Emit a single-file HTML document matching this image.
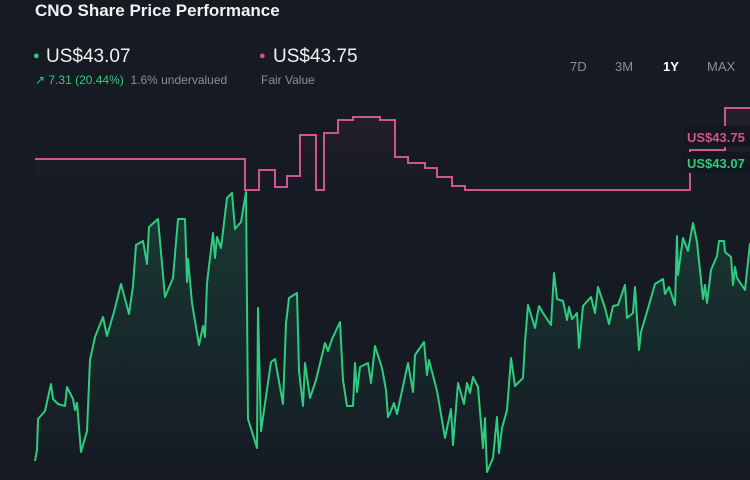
<!DOCTYPE html><html><head><style>
body{margin:0;width:750px;height:480px;background:#151a23;overflow:hidden;font-family:"Liberation Sans",sans-serif;position:relative}
.t{position:absolute;white-space:nowrap}
</style></head><body>
<div class="t" style="left:35px;top:1px;font-size:17px;font-weight:bold;color:#f2f2f2">CNO Share Price Performance</div>
<div class="t" style="left:33px;top:50px;font-size:11px;color:#2ecc7f">●</div>
<div class="t" style="left:46px;top:46px;font-size:19px;color:#f0f0f0">US$43.07</div>
<div class="t" style="left:35px;top:73px;font-size:12px;color:#2ecc7f">↗ 7.31 (20.44%) <span style="color:#8a8f98">&nbsp;1.6% undervalued</span></div>
<div class="t" style="left:259px;top:50px;font-size:11px;color:#d0548f">●</div>
<div class="t" style="left:273px;top:46px;font-size:19px;color:#f0f0f0">US$43.75</div>
<div class="t" style="left:261px;top:73px;font-size:12px;color:#8a8f98">Fair Value</div>
<div class="t" style="left:570px;top:59px;font-size:13px;color:#8a8f98">7D</div>
<div class="t" style="left:615px;top:59px;font-size:13px;color:#8a8f98">3M</div>
<div class="t" style="left:663px;top:59px;font-size:13px;color:#fff;font-weight:bold">1Y</div>
<div class="t" style="left:707px;top:59px;font-size:13px;color:#8a8f98">MAX</div>
<svg width="750" height="480" style="position:absolute;left:0;top:0">
<defs><linearGradient id="g" x1="0" y1="0" x2="0" y2="1"><stop offset="0" stop-color="#2ecc7f" stop-opacity="0.18"/><stop offset="1" stop-color="#2ecc7f" stop-opacity="0"/></linearGradient>
<linearGradient id="p" x1="0" y1="0" x2="0" y2="1"><stop offset="0" stop-color="#d0548f" stop-opacity="0.08"/><stop offset="1" stop-color="#d0548f" stop-opacity="0"/></linearGradient></defs>
<path d="M35,159H245V190H259V170H275V187H287V176H300V135H316V190H324V133H338V120H353V117H380V120H395V157H408V163H425V168H437V177H452V186H465V190H690V150H725V108H750V200H35Z" fill="url(#p)"/>
<polyline fill="none" stroke="#d0548f" stroke-width="2" points="35,159 245,159 245,190 259,190 259,170 275,170 275,187 287,187 287,176 300,176 300,135 316,135 316,190 324,190 324,133 338,133 338,120 353,120 353,117 380,117 380,120 395,120 395,157 408,157 408,163 425,163 425,168 437,168 437,177 452,177 452,186 465,186 465,190 690,190 690,150 725,150 725,108 750,108"/>
<polygon fill="url(#g)" points="35,480 35,461 37,450 38,419 45,411 51,384 53,399 58,404 65,406 67,387 73,399 75,410 77,403 81,452 87,431 90,360 95,337 103,317 107,336 114,312 121,284 129,314 133,286 136,245 143,241 147,264 149,227 158,219 165,297 173,278 178,219 185,219 187,282 188,259 192,303 199,345 203,326 205,337 207,283 213,233 215,258 217,237 221,248 227,198 232,193 235,229 241,222 246,192 248,419 257,448 258,308 261,431 271,362 275,359 283,404 286,323 289,298 297,293 299,371 303,406 305,363 310,398 316,380 325,343 328,351 332,339 340,322 343,380 347,406 353,406 355,363 357,392 360,367 368,363 371,383 375,346 382,368 386,390 388,417 390,413 394,403 397,414 408,363 413,392 415,355 424,342 427,375 429,360 437,391 442,420 445,438 451,409 453,445 458,383 464,404 467,383 470,393 473,377 478,387 483,448 485,418 487,472 493,458 497,417 499,453 502,428 507,410 511,358 515,386 523,378 525,342 528,305 535,328 539,306 543,313 551,325 554,273 557,299 563,301 567,320 569,307 572,319 577,313 579,348 583,306 591,297 595,313 598,287 605,308 609,324 613,306 618,305 625,285 627,318 633,313 635,287 639,350 641,332 649,305 655,284 663,279 665,294 669,287 675,305 677,236 678,275 683,238 688,251 693,223 697,242 703,299 705,285 707,303 711,270 717,256 719,241 724,241 725,252 731,257 733,285 735,267 737,278 745,290 750,243 750,480"/>
<polyline fill="none" stroke="#2ecc7f" stroke-width="2" stroke-linejoin="round" points="35,461 37,450 38,419 45,411 51,384 53,399 58,404 65,406 67,387 73,399 75,410 77,403 81,452 87,431 90,360 95,337 103,317 107,336 114,312 121,284 129,314 133,286 136,245 143,241 147,264 149,227 158,219 165,297 173,278 178,219 185,219 187,282 188,259 192,303 199,345 203,326 205,337 207,283 213,233 215,258 217,237 221,248 227,198 232,193 235,229 241,222 246,192 248,419 257,448 258,308 261,431 271,362 275,359 283,404 286,323 289,298 297,293 299,371 303,406 305,363 310,398 316,380 325,343 328,351 332,339 340,322 343,380 347,406 353,406 355,363 357,392 360,367 368,363 371,383 375,346 382,368 386,390 388,417 390,413 394,403 397,414 408,363 413,392 415,355 424,342 427,375 429,360 437,391 442,420 445,438 451,409 453,445 458,383 464,404 467,383 470,393 473,377 478,387 483,448 485,418 487,472 493,458 497,417 499,453 502,428 507,410 511,358 515,386 523,378 525,342 528,305 535,328 539,306 543,313 551,325 554,273 557,299 563,301 567,320 569,307 572,319 577,313 579,348 583,306 591,297 595,313 598,287 605,308 609,324 613,306 618,305 625,285 627,318 633,313 635,287 639,350 641,332 649,305 655,284 663,279 665,294 669,287 675,305 677,236 678,275 683,238 688,251 693,223 697,242 703,299 705,285 707,303 711,270 717,256 719,241 724,241 725,252 731,257 733,285 735,267 737,278 745,290 750,243"/>
<rect x="683" y="126" width="67" height="21" fill="#16161d"/>
<text x="687" y="142" font-family="Liberation Sans" font-weight="bold" font-size="13" fill="#d0548f">US$43.75</text>
<rect x="683" y="152" width="67" height="21" fill="#13181e"/>
<text x="687" y="168" font-family="Liberation Sans" font-weight="bold" font-size="13" fill="#2ecc7f">US$43.07</text>
</svg>
</body></html>
